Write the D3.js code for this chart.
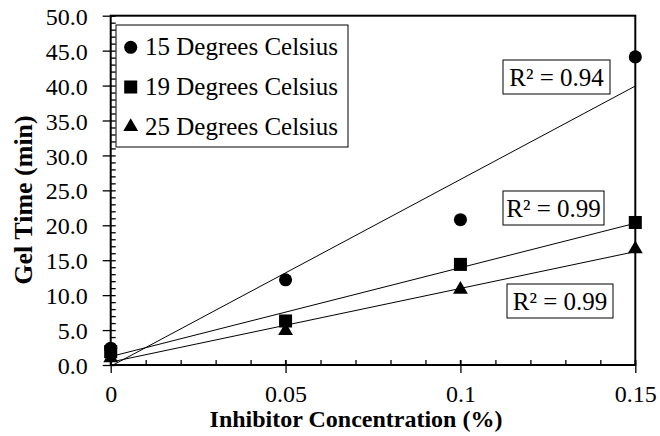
<!DOCTYPE html>
<html>
<head>
<meta charset="utf-8">
<script src="https://cdn.jsdelivr.net/npm/d3@7/dist/d3.min.js"></script>
<style>
  body { margin: 0; background: #fff; }
</style>
</head>
<body>
<script>
// data
const concentration = [0, 0.05, 0.1, 0.15];
const series = ["15 Degrees Celsius", "19 Degrees Celsius", "25 Degrees Celsius"];
const gel15 = [2.4, 12.2, 20.8, 44.1];
const gel19 = [1.9, 6.3, 14.4, 20.4];
const gel25 = [1.0, 4.9, 10.8, 16.6];
const rSquared = ["R² = 0.94", "R² = 0.99", "R² = 0.99"];
const xTicks = [0, 0.05, 0.1, 0.15];
const yTicks = [0, 5, 10, 15, 20, 25, 30, 35, 40, 45, 50];

const FONT = "'Liberation Serif', 'Times New Roman', Times, serif";
const allGel = [gel15, gel19, gel25];
const symbols = [d3.symbolCircle, d3.symbolSquare, d3.symbolTriangle];
const symSize = [135, 170, 95];

const W = 660, H = 436;
const margin = { top: 15.7, right: 24.7, bottom: 71, left: 110.7 };
const width = W - margin.left - margin.right;
const height = H - margin.top - margin.bottom;

const svg = d3.select("body").append("svg")
  .attr("width", W).attr("height", H)
  .style("font-family", FONT);

const g = svg.append("g")
  .attr("transform", `translate(${margin.left},${margin.top})`);

const x = d3.scaleLinear().domain([0, 0.15]).range([0, width]);
const y = d3.scaleLinear().domain([0, 50]).range([height, 0]);

// minor ticks, inside
const xMinor = d3.range(0, 16).map(i => i / 100);
const yMinor = d3.range(0, 51);

g.append("g")
  .attr("transform", `translate(0,${height})`)
  .call(d3.axisBottom(x).tickValues(xMinor).tickSize(-5).tickFormat(""))
  .call(a => a.select(".domain").remove());
g.append("g")
  .call(d3.axisLeft(y).tickValues(yMinor).tickSize(-5).tickFormat(""))
  .call(a => a.select(".domain").remove());

// major ticks, crossing the axis
g.append("g")
  .attr("transform", `translate(0,${height})`)
  .call(d3.axisBottom(x).tickValues(xTicks).tickSizeInner(8).tickSizeOuter(0)
    .tickPadding(12).tickFormat(d => d3.format("")(d)))
  .call(a => a.select(".domain").remove());
g.append("g")
  .call(d3.axisLeft(y).tickValues(yTicks).tickSizeInner(8).tickSizeOuter(0)
    .tickPadding(15).tickFormat(d3.format(".1f")))
  .call(a => a.select(".domain").remove())
  .call(a => a.selectAll("text").attr("dy", "0.36em"));
g.selectAll("g").attr("font-family", null).attr("font-size", null);
g.selectAll(".tick text")
  .style("font-family", FONT).style("font-size", "24px").attr("fill", "#000");
g.selectAll(".tick line").attr("stroke", "#000").attr("stroke-width", 1.3);

// cross parts of the major ticks
g.append("g").selectAll("line").data(xTicks).join("line")
  .attr("x1", d => x(d)).attr("x2", d => x(d))
  .attr("y1", height - 5).attr("y2", height)
  .attr("stroke", "#000").attr("stroke-width", 1.3);

// plot frame
g.append("rect")
  .attr("width", width).attr("height", height)
  .attr("fill", "none").attr("stroke", "#000").attr("stroke-width", 2);

// trendlines (least squares fit of each series)
g.append("clipPath").attr("id", "clip")
  .append("rect").attr("width", width).attr("height", height);

function fit(ys) {
  const mx = d3.mean(concentration), my = d3.mean(ys);
  const sxy = d3.sum(concentration, (c, i) => (c - mx) * (ys[i] - my));
  const sxx = d3.sum(concentration, c => (c - mx) * (c - mx));
  const b = sxy / sxx;
  return { b, a: my - b * mx };
}

const line = d3.line().x(d => x(d[0])).y(d => y(d[1]));
allGel.forEach(ys => {
  const f = fit(ys);
  g.append("path")
    .attr("clip-path", "url(#clip)")
    .attr("d", line([[0, f.a], [0.15, f.a + f.b * 0.15]]))
    .attr("fill", "none").attr("stroke", "#000").attr("stroke-width", 1);
});

// markers
allGel.forEach((ys, s) => {
  g.append("g").selectAll("path")
    .data(ys).join("path")
    .attr("transform", (d, i) => `translate(${x(concentration[i])},${y(d)})`)
    .attr("d", d3.symbol().type(symbols[s]).size(symSize[s]))
    .attr("fill", "#000");
});

function label(sel) {
  return sel.style("font-family", FONT).attr("fill", "#000");
}

// R² boxes
const rBoxes = [
  { x0: 503, y0: 60, w: 107, h: 34 },
  { x0: 503, y0: 191, w: 101, h: 34 },
  { x0: 507, y0: 284, w: 106, h: 34 }
];
rSquared.forEach((t, i) => {
  const b = rBoxes[i];
  svg.append("rect")
    .attr("x", b.x0).attr("y", b.y0).attr("width", b.w).attr("height", b.h)
    .attr("fill", "#fff").attr("stroke", "#000").attr("stroke-width", 1);
  label(svg.append("text"))
    .attr("x", b.x0 + b.w / 2).attr("y", b.y0 + b.h / 2)
    .attr("dy", "0.35em").attr("text-anchor", "middle")
    .style("font-size", "25px").text(t);
});

// legend
svg.append("rect")
  .attr("x", 116).attr("y", 25).attr("width", 232).attr("height", 122)
  .attr("fill", "#fff").attr("stroke", "#000").attr("stroke-width", 1);
series.forEach((name, i) => {
  const cy = 47.3 + i * 39.7;
  svg.append("path")
    .attr("transform", `translate(130.7,${cy})`)
    .attr("d", d3.symbol().type(symbols[i]).size(symSize[i]))
    .attr("fill", "#000");
  label(svg.append("text"))
    .attr("x", 145).attr("y", cy + 8)
    .style("font-size", "25px").text(name);
});

// axis titles
label(svg.append("text"))
  .attr("x", 356).attr("y", 427)
  .attr("text-anchor", "middle").attr("font-weight", "bold")
  .style("font-size", "24px").text("Inhibitor Concentration (%)");
label(svg.append("text"))
  .attr("transform", "translate(32,200) rotate(-90)")
  .attr("text-anchor", "middle").attr("font-weight", "bold")
  .style("font-size", "26px").text("Gel Time (min)");
</script>
</body>
</html>
